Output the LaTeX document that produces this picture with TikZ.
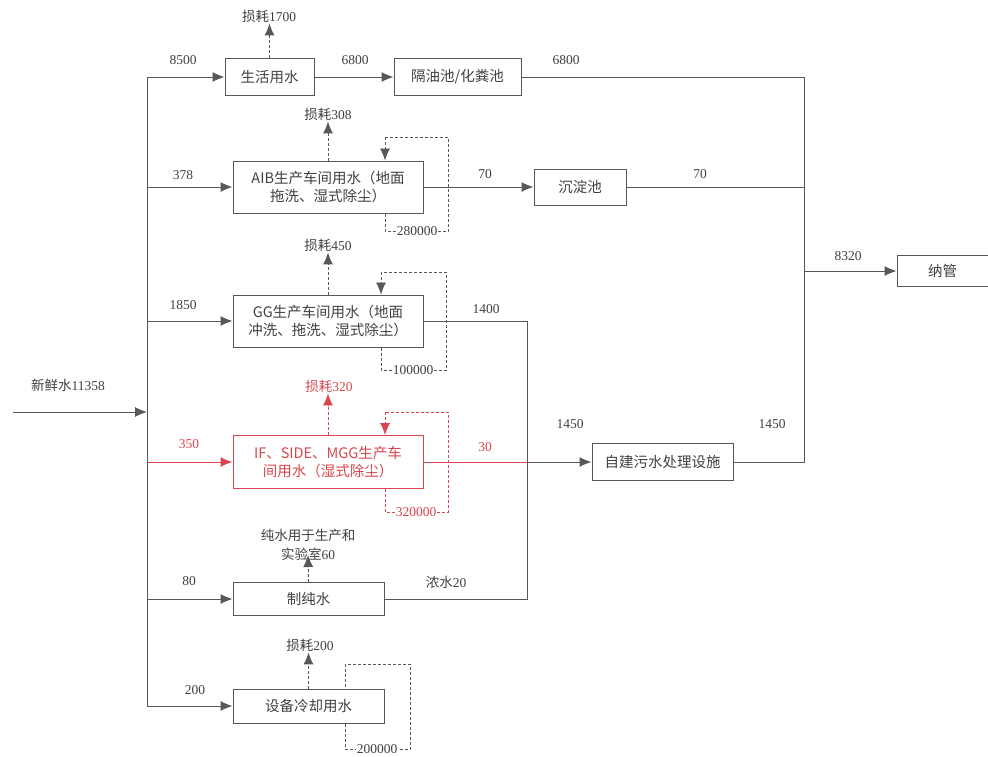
\documentclass[tikz,border=0pt]{standalone}
\usepackage{fontspec}
\setmainfont{Liberation Serif}
\newfontfamily\cjk{Noto Sans CJK SC}
\usetikzlibrary{arrows.meta}
\definecolor{ln}{HTML}{585858}
\definecolor{rd}{HTML}{D9464F}
\definecolor{tx}{HTML}{404040}
\begin{document}
\begin{tikzpicture}[x=1pt,y=-1pt,
  box/.style={draw=ln, line width=1pt, inner sep=0pt, align=center, text=tx, font=\cjk\fontsize{14.5}{18}\selectfont},
  lbl/.style={inner sep=1pt, text=tx, font=\fontsize{13.5}{15}\selectfont},
  flow/.style={draw=ln, line width=1pt},
  arr/.style={flow, -{Latex[length=12pt,width=10pt]}},
  darr/.style={flow, dash pattern=on 3pt off 2pt, -{Latex[length=12pt,width=10pt]}},
  lp/.style={flow, line width=0.8pt, dash pattern=on 3pt off 2pt},
  lplbl/.style={lbl, fill=white, inner sep=1pt},
]
\useasboundingbox (0,0) rectangle (988,756);

% boxes
\node[box, minimum width=89, minimum height=37] (sh) at (269.5,77) {生活用水};
\node[box, minimum width=127, minimum height=37] (gy) at (457.5,77) {隔油池/化粪池};
\node[box, minimum width=190, minimum height=52] (aib) at (328,187) {AIB生产车间用水（地面\\拖洗、湿式除尘）};
\node[box, minimum width=92, minimum height=36] (cd) at (580,187) {沉淀池};
\node[box, minimum width=190, minimum height=52] (gg) at (328,321) {GG生产车间用水（地面\\冲洗、拖洗、湿式除尘）};
\node[box, draw=rd, text=rd, minimum width=190, minimum height=53] (ifb) at (328,462) {IF、SIDE、MGG生产车\\间用水（湿式除尘）};
\node[box, minimum width=141, minimum height=37] (zj) at (662.5,462) {自建污水处理设施};
\node[box, minimum width=91, minimum height=31] (ng) at (942.5,271) {纳管};
\node[box, minimum width=151, minimum height=33] (cs) at (308.5,599) {制纯水};
\node[box, minimum width=151, minimum height=34] (sb) at (308.5,706) {设备冷却用水};

% main supply line
\coordinate (mtop) at (147,77);
\coordinate (mbot) at (147,706);
\coordinate (fw) at (13,412);
\coordinate (fj) at (147,412);
\draw[flow] (mtop) -- (mbot);
\draw[arr] (fw) -- (fj);
\node[lbl] (fwl) at (68,385) {{\cjk 新鲜水}11358};

\draw[arr] (mtop) -- (sh.west);
\draw[arr] (aib.west -| mtop) -- (aib.west);
\draw[arr] (gg.west -| mtop) -- (gg.west);
\draw[arr, draw=rd] (ifb.west -| mtop) -- (ifb.west);
\draw[arr] (cs.west -| mtop) -- (cs.west);
\draw[arr] (mbot) -- (sb.west);

\node[lbl] (l8500) at (183,60) {8500};
\node[lbl] (l378) at (183,175) {378};
\node[lbl] (l1850) at (183,305) {1850};
\node[lbl, text=rd] (l350) at (189,444) {350};
\node[lbl] (l80) at (189,581) {80};
\node[lbl] (l200) at (195,690) {200};

% top row
\draw[arr] (sh.east) -- (gy.west);
\node[lbl] (l6800a) at (355,60) {6800};
\node[lbl] (l6800b) at (566,60) {6800};
\coordinate (rc) at (804,0);
\draw[flow] (gy.east) -- (gy.east -| rc) -- (zj.east -| rc) -- (zj.east);
\draw[flow] (cd.east) -- (cd.east -| rc);
\draw[arr] (ng.west -| rc) -- (ng.west);
\node[lbl] (l8320) at (848,256) {8320};

% AIB
\draw[arr] (aib.east) -- (cd.west);
\node[lbl] (l70a) at (485,174) {70};
\node[lbl] (l70b) at (700,174) {70};

% GG and pure-water collector
\coordinate (mc) at (527,0);
\draw[flow] (gg.east) -- (gg.east -| mc) -- (cs.east -| mc) -- (cs.east);
\node[lbl] (l1400) at (486,309) {1400};
\node[lbl] (lns) at (446,582) {{\cjk 浓水}20};

% IF to treatment
\draw[flow, draw=rd] (ifb.east) -- (ifb.east -| mc);
\draw[arr] (ifb.east -| mc) -- (zj.west);
\node[lbl, text=rd] (l30) at (485,447) {30};
\node[lbl] (l1450a) at (570,424) {1450};
\node[lbl] (l1450b) at (772,424) {1450};

% losses
\node[lbl] (s1700) at (269,16) {{\cjk 损耗}1700};
\draw[darr] (sh.north) -- (sh.north |- s1700.south);
\node[lbl] (s308) at (328,114) {{\cjk 损耗}308};
\draw[darr] (aib.north) -- (aib.north |- s308.south);
\node[lbl] (s450) at (328,245) {{\cjk 损耗}450};
\draw[darr] (gg.north) -- (gg.north |- s450.south);
\node[lbl, text=rd] (s320) at (329,386) {{\cjk 损耗}320};
\draw[darr, draw=rd] (ifb.north) -- (ifb.north |- s320.south);
\node[lbl, align=center, font=\cjk\fontsize{13.5}{19}\selectfont] (pw) at (308,545) {纯水用于生产和\\实验室{\rmfamily 60}};
\coordinate (pwt) at (308,555);
\draw[darr] (cs.north) -- (pwt);
\node[lbl] (s200) at (310,645) {{\cjk 损耗}200};
\draw[darr] (sb.north) -- (sb.north |- s200.south);

% recirculation loops
\coordinate (a1) at (385,231); \coordinate (a2) at (448,231);
\coordinate (a3) at (448,137); \coordinate (a4) at (385,137);
\draw[lp] (aib.south -| a1) -- (a1) -- (a2) -- (a3) -- (a4);
\draw[darr, line width=0.8pt] (a4) -- (aib.north -| a4);
\node[lplbl] (c280) at (417,231) {280000};

\coordinate (g1) at (381,370); \coordinate (g2) at (446,370);
\coordinate (g3) at (446,272); \coordinate (g4) at (381,272);
\draw[lp] (gg.south -| g1) -- (g1) -- (g2) -- (g3) -- (g4);
\draw[darr, line width=0.8pt] (g4) -- (gg.north -| g4);
\node[lplbl] (c100) at (413,370) {100000};

\coordinate (i1) at (385,512); \coordinate (i2) at (448,512);
\coordinate (i3) at (448,412); \coordinate (i4) at (385,412);
\draw[lp, draw=rd] (ifb.south -| i1) -- (i1) -- (i2) -- (i3) -- (i4);
\draw[darr, draw=rd, line width=0.8pt] (i4) -- (ifb.north -| i4);
\node[lplbl, text=rd] (c320) at (416,512) {320000};

\coordinate (b1) at (345,749); \coordinate (b2) at (410,749);
\coordinate (b3) at (410,664); \coordinate (b4) at (345,664);
\draw[lp] (sb.south -| b1) -- (b1) -- (b2) -- (b3) -- (b4) -- (sb.north -| b4);
\node[lplbl] (c200) at (377,749) {200000};
\end{tikzpicture}
\end{document}
